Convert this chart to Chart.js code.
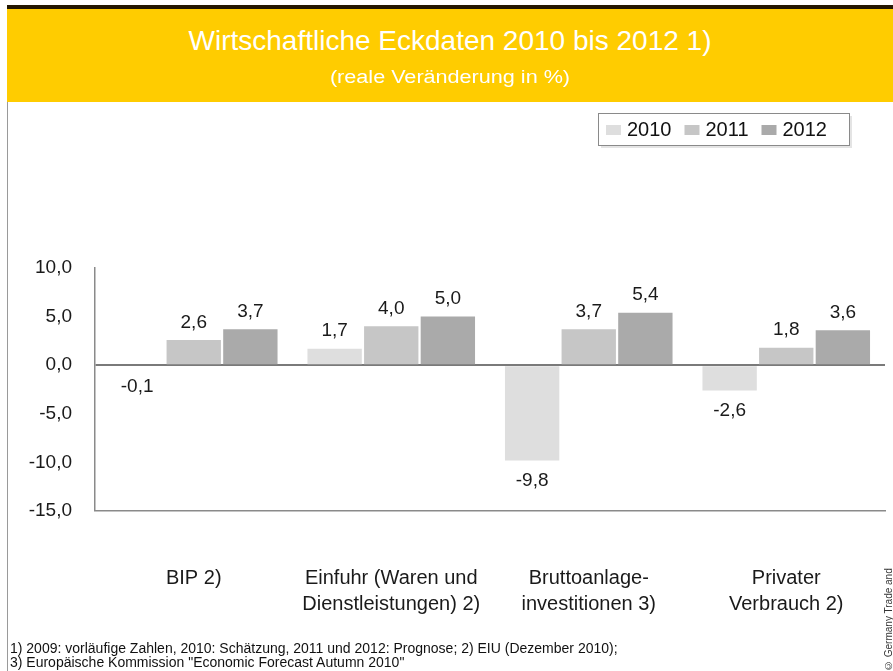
<!DOCTYPE html>
<html>
<head>
    <title>Wirtschaftliche Eckdaten 2010 bis 2012</title>
    <style>
        body { margin: 0; background: #fff; font-family: "Liberation Sans", Arial, sans-serif; }
        #wrap { position: relative; width: 893px; height: 671px; overflow: hidden; }
        #chart { position: absolute; left: 0; top: 0; }
        #topline { position: absolute; left: 7px; top: 5px; width: 886px; height: 4px; background: #241700; }
        #header { position: absolute; left: 7px; top: 9px; width: 886px; height: 93px; background: #ffcc00; color: #fff; text-align: center; }
        #header h1 { margin: 0; padding-top: 16px; font-size: 28px; line-height: 32px; font-weight: normal; }
        #header p { margin: 9px 0 0; font-size: 18px; line-height: 22px; transform: scaleX(1.2); }
        #leftline { position: absolute; left: 7px; top: 102px; width: 1px; height: 569px; background: #9a9a9a; }
        #notes { position: absolute; left: 10px; top: 641px; font-size: 14px; line-height: 14px; color: #111; }
        #source { position: absolute; left: 883px; top: 546px; writing-mode: vertical-rl; transform: rotate(180deg); font-size: 10px; color: #333; }
    </style>
</head>
<body>
<div id="wrap">
    <canvas id="chart" width="893" height="671"></canvas>
    <div id="topline"></div>
    <div id="header">
        <h1>Wirtschaftliche Eckdaten 2010 bis 2012 1)</h1>
        <p>(reale Veränderung in %)</p>
    </div>
    <div id="leftline"></div>
    <div id="notes">1) 2009: vorläufige Zahlen, 2010: Schätzung, 2011 und 2012: Prognose; 2) EIU (Dezember 2010);<br>3) Europäische Kommission "Economic Forecast Autumn 2010"</div>
    <div id="source">© Germany Trade and Invest</div>
</div>
<script src="https://cdn.jsdelivr.net/npm/chart.js@4.4.0/dist/chart.umd.min.js"></script>
<script>
    // Daten
    const categories = [
        ['BIP 2)'],
        ['Einfuhr (Waren und', 'Dienstleistungen) 2)'],
        ['Bruttoanlage-', 'investitionen 3)'],
        ['Privater', 'Verbrauch 2)']
    ];
    const years = ['2010', '2011', '2012'];
    const values2010 = [-0.1, 1.7, -9.8, -2.6];
    const values2011 = [2.6, 4.0, 3.7, 1.8];
    const values2012 = [3.7, 5.0, 5.4, 3.6];
    const yTicks = [10, 5, 0, -5, -10, -15];

    const colors = ['#dedede', '#c6c6c6', '#aaaaaa'];
    const fmt = v => v.toFixed(1).replace('.', ',');

    // Werte über/unter den Balken
    const valueLabels = {
        id: 'valueLabels',
        afterDatasetsDraw(chart) {
            const ctx = chart.ctx;
            ctx.save();
            ctx.font = '19px "Liberation Sans", Arial, sans-serif';
            ctx.fillStyle = '#1a1a1a';
            ctx.textAlign = 'center';
            chart.data.datasets.forEach((ds, i) => {
                chart.getDatasetMeta(i).data.forEach((bar, j) => {
                    const v = ds.data[j];
                    if (v >= 0) {
                        ctx.textBaseline = 'bottom';
                        ctx.fillText(fmt(v), bar.x, Math.min(bar.y, bar.base) - 8);
                    } else {
                        ctx.textBaseline = 'top';
                        ctx.fillText(fmt(v), bar.x, Math.max(bar.y, bar.base) + 11);
                    }
                });
            });
            ctx.restore();
        }
    };

    // Legende im Kasten oben rechts
    const boxLegend = {
        id: 'boxLegend',
        afterDraw(chart) {
            const ctx = chart.ctx;
            const left = 598, top = 113, w = 251, h = 32;
            ctx.save();
            ctx.fillStyle = '#e4e4e4';
            ctx.fillRect(left + 3, top + 3, w, h);
            ctx.fillStyle = '#fff';
            ctx.fillRect(left, top, w, h);
            ctx.strokeStyle = '#8a8a8a';
            ctx.lineWidth = 1;
            ctx.strokeRect(left + 0.5, top + 0.5, w, h);
            ctx.font = '20px "Liberation Sans", Arial, sans-serif';
            ctx.textBaseline = 'middle';
            let x = left + 8;
            chart.data.datasets.forEach(ds => {
                ctx.fillStyle = ds.backgroundColor;
                ctx.fillRect(x, top + 12, 15, 10);
                ctx.fillStyle = '#111';
                ctx.fillText(ds.label, x + 21, top + 17);
                x += 21 + ctx.measureText(ds.label).width + 13;
            });
            ctx.restore();
        }
    };

    const ctx = document.getElementById('chart').getContext('2d');
    new Chart(ctx, {
        type: 'bar',
        data: {
            labels: categories,
            datasets: [values2010, values2011, values2012].map((d, i) => ({
                label: years[i],
                data: d,
                backgroundColor: colors[i],
                categoryPercentage: 0.86,
                barPercentage: 0.96
            }))
        },
        options: {
            responsive: false,
            animation: false,
            layout: { padding: { left: 10, right: 8, top: 268, bottom: 50 } },
            plugins: {
                legend: { display: false },
                tooltip: { enabled: false }
            },
            scales: {
                x: {
                    grid: { display: false, drawTicks: false },
                    border: { color: '#8a8a8a', width: 1.5 },
                    ticks: {
                        padding: 54,
                        color: '#1a1a1a',
                        font: { family: '"Liberation Sans", Arial, sans-serif', size: 20, lineHeight: 1.3 },
                        maxRotation: 0
                    },
                    afterFit(scale) {
                        scale.height = 110;
                        scale.paddingLeft = 0;
                        scale.paddingRight = 0;
                    }
                },
                y: {
                    min: -15,
                    max: 10,
                    afterBuildTicks(scale) { scale.ticks = yTicks.map(v => ({ value: v })); },
                    grid: {
                        drawTicks: false,
                        color: c => c.tick && c.tick.value === 0 ? '#7a7a7a' : 'rgba(0,0,0,0)',
                        lineWidth: c => c.tick && c.tick.value === 0 ? 2 : 0
                    },
                    border: { color: '#8a8a8a', width: 1.5 },
                    ticks: {
                        padding: 23,
                        color: '#1a1a1a',
                        font: { family: '"Liberation Sans", Arial, sans-serif', size: 19 },
                        callback: v => fmt(v)
                    },
                    afterFit(scale) { scale.width = 85; }
                }
            }
        },
        plugins: [valueLabels, boxLegend]
    });
</script>
</body>
</html>
